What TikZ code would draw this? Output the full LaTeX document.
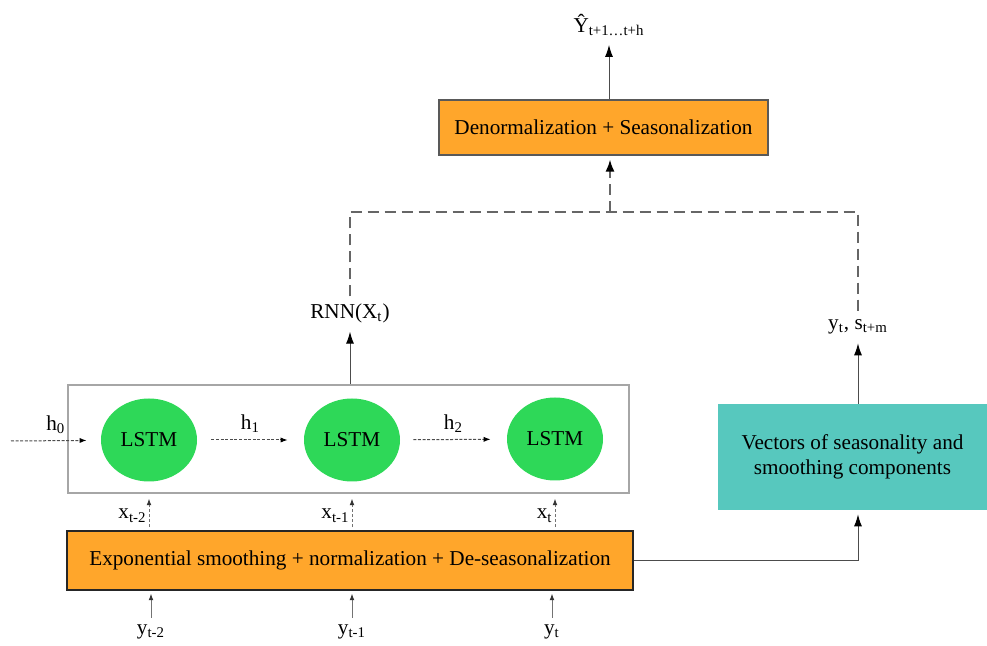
\documentclass[tikz,border=0pt]{standalone}
\usepackage{fontspec}
\setmainfont{Liberation Serif}
\usepackage{tikz}
\usetikzlibrary{shapes.geometric, arrows.meta, positioning}

\definecolor{BoxOrange}{HTML}{FFA62B}
\definecolor{CellGreen}{HTML}{2ED858}
\definecolor{VecTeal}{HTML}{57C8BE}

\begin{document}
\begin{tikzpicture}[
		x=0.5pt, y=-0.5pt,
		font=\fontsize{10.6}{12.5}\selectfont,
		BoxCfg/.style={
			draw=black!85, line width=0.75pt, fill=BoxOrange, inner sep=0pt
		},
		CellCfg/.style={
			ellipse, fill=CellGreen, minimum width=48pt, minimum height=41.5pt, inner sep=0pt
		},
		ArrCfg/.style={
			draw=black!70, line width=0.5pt, -{Latex[length=6pt, width=4pt, color=black]}, shorten >=1pt
		},
		HArrCfg/.style={
			draw=black!70, line width=0.5pt, dash pattern=on 1.5pt off 0.8pt,
			-{Latex[length=3.5pt, width=2.6pt, color=black]}
		},
		XArrCfg/.style={
			draw=black!55, line width=0.45pt, dash pattern=on 1.5pt off 1pt,
			-{Latex[length=3.2pt, width=2.4pt, color=black!80]}, shorten <=1.5pt, shorten >=2.5pt
		},
		YArrCfg/.style={
			draw=black!55, line width=0.45pt, -{Latex[length=3.2pt, width=2.4pt, color=black!80]}, shorten >=1.5pt
		},
		DashCfg/.style={
			draw=black!60, line width=0.9pt, dash pattern=on 5.5pt off 3pt
		}
		]
		
		\path
		(348.5,439) node [draw=black!35, line width=0.75pt, minimum width=280.5pt, minimum height=54pt] (CHAIN) {}
		(149,440) node [CellCfg] (LSTM1) {LSTM}
		(352,440) node [CellCfg] (LSTM2) {LSTM}
		(555,439) node [CellCfg] (LSTM3) {LSTM}
		(350,560.5) node [BoxCfg, minimum width=283pt, minimum height=29.5pt] (ESN)
		{Exponential smoothing + normalization + De-seasonalization}
		(603.5,127.5) node [BoxCfg, draw=black!65, line width=0.6pt, minimum width=164.5pt, minimum height=27.5pt] (DENORM)
		{Denormalization + Seasonalization}
		(852.5,457) node [fill=VecTeal, minimum width=134.5pt, minimum height=53pt, inner sep=0pt, align=center] (VEC)
		{Vectors of seasonality and\\smoothing components}
		(609,25) node (YHAT) {Ŷ\textsubscript{t+1…t+h}}
		(350,313) node (RNNOUT) {RNN(X\textsubscript{t})}
		(858,327) node (COMP) {y\textsubscript{t}, s\textsubscript{t+m}}
		(151,632) node (Y1) {y\textsubscript{t-2}}
		(352,632) node (Y2) {y\textsubscript{t-1}}
		(552,632) node (Y3) {y\textsubscript{t}};
		
		\coordinate (H0IN) at (11,441);
		\coordinate (JOIN) at (610,212);
		
		\draw[HArrCfg, shorten >=7pt] (H0IN) -- (LSTM1) node [midway, above] (H0) {h\textsubscript{0}};
		\draw[HArrCfg, shorten <=7pt, shorten >=8pt] (LSTM1) -- (LSTM2) node [midway, above] (H1) {h\textsubscript{1}};
		\draw[HArrCfg, shorten <=6.5pt, shorten >=8pt] (LSTM2) -- (LSTM3) node [midway, above] (H2) {h\textsubscript{2}};
		
		\draw[XArrCfg] (ESN.north -| LSTM1) -- (CHAIN.south -| LSTM1) node [pos=0.4, left, inner sep=1pt] (X1) {x\textsubscript{t-2}};
		\draw[XArrCfg] (ESN.north -| LSTM2) -- (CHAIN.south -| LSTM2) node [pos=0.4, left, inner sep=1pt] (X2) {x\textsubscript{t-1}};
		\draw[XArrCfg] (ESN.north -| LSTM3) -- (CHAIN.south -| LSTM3) node [pos=0.4, left, inner sep=1pt] (X3) {x\textsubscript{t}};
		
		\draw[YArrCfg] (Y1.north) -- (ESN.south -| Y1.north);
		\draw[YArrCfg] (Y2.north) -- (ESN.south -| Y2.north);
		\draw[YArrCfg] (Y3.north) -- (ESN.south -| Y3.north);
		
		\draw[ArrCfg] (DENORM.north -| YHAT.south) -- (YHAT.south);
		\draw[ArrCfg] (CHAIN.north -| RNNOUT.south) -- (RNNOUT.south);
		\draw[ArrCfg] (VEC.north -| COMP.south) -- (COMP.south);
		\draw[ArrCfg, shorten >=2pt] (ESN.east) -| (VEC.south -| COMP.south);
		
		\draw[DashCfg] (RNNOUT.north) |- (JOIN) -| (COMP.north);
		\draw[DashCfg, -{Latex[length=6pt, width=4.5pt, color=black]}, shorten >=2pt] (JOIN) -- (DENORM.south -| JOIN);
		
		\useasboundingbox (0,0) rectangle (987,642);
		\end{tikzpicture}
\end{document}
